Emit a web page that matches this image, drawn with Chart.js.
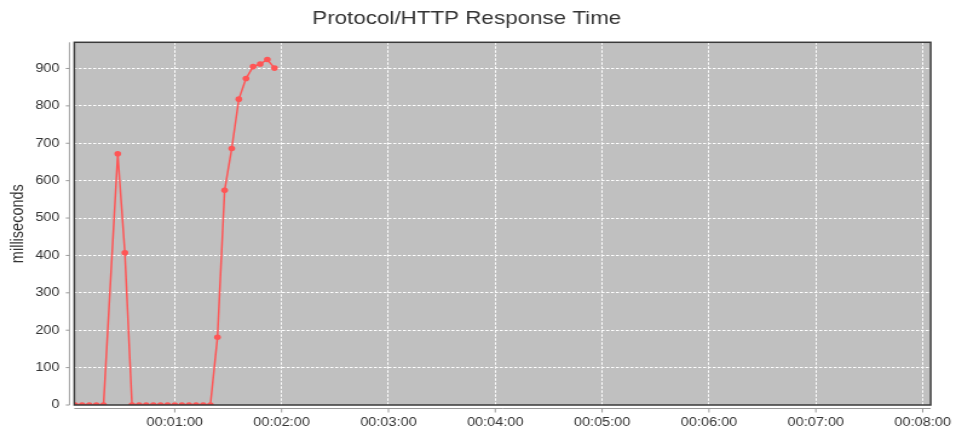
<!DOCTYPE html>
<html>
<head>
<meta charset="utf-8">
<script src="https://cdn.jsdelivr.net/npm/chart.js@4.4.0/dist/chart.umd.min.js"></script>
<style>
  html, body { margin: 0; padding: 0; background: #fff; overflow: hidden; }
  /* the source picture is a chart stretched sideways, so draw narrow and stretch */
  #wrap { width: 790px; height: 430px; transform: scaleX(1.2101); transform-origin: 0 0; }
</style>
</head>
<body>
<div id="wrap"><canvas id="myChart" width="790" height="430"></canvas></div>
<script>
var chartTitle = 'Protocol/HTTP Response Time';
var yTitle = 'milliseconds';

// elapsed seconds of each sample
var times = [4, 8, 12, 16, 20, 28, 32, 36, 40, 44, 48, 52, 56, 60, 64, 68, 72, 76, 80,
             84, 88, 92, 96, 100, 104, 108, 112, 116];
// response time, ms
var responseMs = [0, 0, 0, 0, 0, 672, 407, 0, 0, 0, 0, 0, 0, 0, 0, 0, 0, 0, 0,
                  181, 574, 686, 818, 873, 905, 912, 924, 901];

var xTicks = [60, 120, 180, 240, 300, 360, 420, 480];
var yTicks = [0, 100, 200, 300, 400, 500, 600, 700, 800, 900];

function hms(s) {
  var h = Math.floor(s / 3600), m = Math.floor(s % 3600 / 60), sec = s % 60;
  return [h, m, sec].map(function(n) { return String(n).padStart(2, '0'); }).join(':');
}

var fontFam = '"Liberation Sans", Arial, sans-serif';
var lineRed = '#ff5555';

var plotFrame = {
  id: 'plotFrame',
  beforeDraw: function(chart) {
    var a = chart.chartArea, c = chart.ctx;
    c.save();
    c.fillStyle = '#c0c0c0';
    c.fillRect(a.left, a.top, a.right - a.left, a.bottom - a.top);
    c.restore();
  },
  afterDraw: function(chart) {
    var a = chart.chartArea, c = chart.ctx;
    var sx = chart.scales.x, sy = chart.scales.y;
    c.save();
    c.strokeStyle = '#3a3a3a';
    c.lineWidth = 1.5;
    c.strokeRect(a.left, a.top, a.right - a.left, a.bottom - a.top);

    // axis lines sit a little away from the plot
    var ax = a.left - 4, ay = a.bottom + 3.5;
    c.strokeStyle = '#9a9a9a';
    c.lineWidth = 1;
    c.beginPath();
    c.moveTo(ax, a.top); c.lineTo(ax, a.bottom);
    yTicks.forEach(function(v) {
      var p = sy.getPixelForValue(v);
      c.moveTo(ax - 3, p); c.lineTo(ax, p);
    });
    c.moveTo(a.left, ay); c.lineTo(a.right, ay);
    xTicks.forEach(function(v) {
      var p = sx.getPixelForValue(v);
      c.moveTo(p, ay); c.lineTo(p, ay + 4);
    });
    c.stroke();

    c.fillStyle = '#333';
    c.font = '18.5px ' + fontFam;
    c.textAlign = 'center';
    c.textBaseline = 'middle';
    c.fillText(chartTitle, 385.7, 18.5);
    c.restore();
  }
};

var ctx = document.getElementById('myChart').getContext('2d');

var myChart = new Chart(ctx, {
  type: 'line',
  data: {
    datasets: [{
      data: times.map(function(t, i) { return { x: t, y: responseMs[i] }; }),
      borderColor: lineRed,
      backgroundColor: lineRed,
      borderWidth: 1.5,
      pointRadius: 2.8,
      pointBorderWidth: 0,
      pointBackgroundColor: lineRed,
      tension: 0
    }]
  },
  options: {
    responsive: false,
    animation: false,
    layout: { padding: { top: 42.3, right: 20.9, left: 0, bottom: 0 } },
    plugins: {
      legend: { display: false },
      title: { display: false },
      tooltip: { enabled: false }
    },
    scales: {
      x: {
        type: 'linear',
        min: 3.6,
        max: 484.5,
        afterBuildTicks: function(s) { s.ticks = xTicks.map(function(v) { return { value: v }; }); },
        afterFit: function(s) { s.height = 25; s.paddingLeft = 0; s.paddingRight = 0; },
        grid: { color: '#ffffff', lineWidth: 1, drawTicks: false },
        border: { display: false, dash: [2.5, 1.5] },
        ticks: {
          padding: 10,
          color: '#333',
          font: { family: fontFam, size: 12 },
          maxRotation: 0,
          autoSkip: false,
          callback: function(v) { return hms(v); }
        }
      },
      y: {
        min: 0,
        max: 970,
        afterBuildTicks: function(s) { s.ticks = yTicks.map(function(v) { return { value: v }; }); },
        afterFit: function(s) { s.width = 61.4; s.paddingTop = 0; s.paddingBottom = 0; },
        grid: { color: '#ffffff', lineWidth: 1, drawTicks: false },
        border: { display: false, dash: [2.5, 1.5] },
        ticks: {
          padding: 12.2,
          color: '#333',
          font: { family: fontFam, size: 12 }
        },
        title: {
          display: true,
          text: yTitle,
          color: '#333',
          font: { family: fontFam, size: 14.5 },
          padding: { top: 5.8, bottom: 0 }
        }
      }
    }
  },
  plugins: [plotFrame]
});
</script>
</body>
</html>
